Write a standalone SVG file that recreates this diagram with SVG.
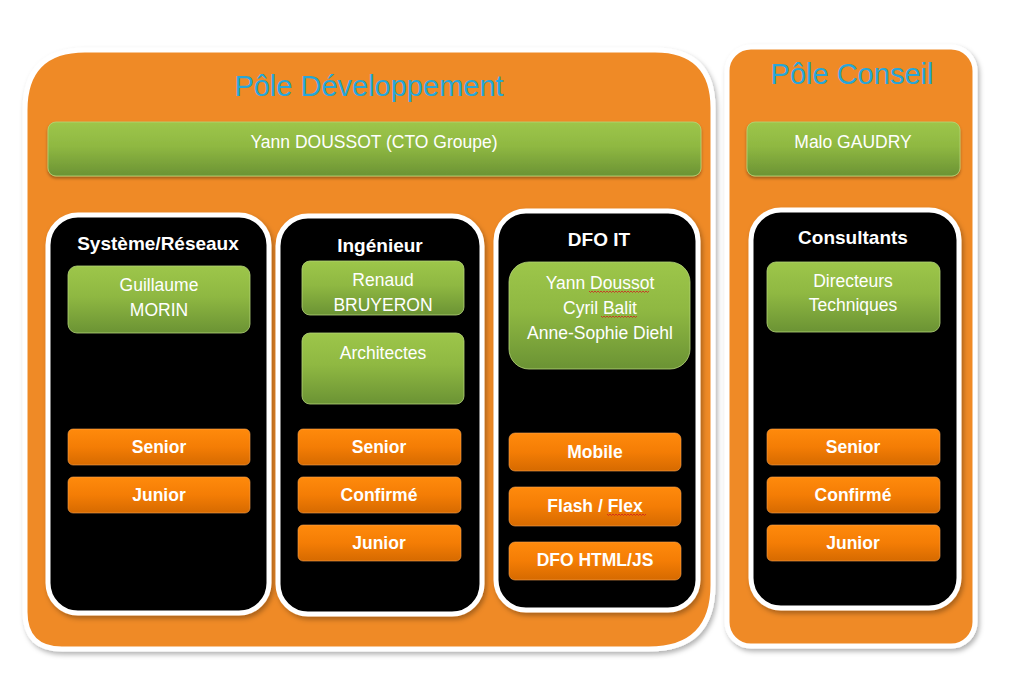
<svg xmlns="http://www.w3.org/2000/svg" width="1011" height="685" viewBox="0 0 1011 685">
<defs>
<linearGradient id="gGreen" x1="0" y1="0" x2="0" y2="1">
<stop offset="0" stop-color="#9dc64a"/><stop offset="0.45" stop-color="#8fb842"/><stop offset="1" stop-color="#6b9334"/>
</linearGradient>
<linearGradient id="gOrange" x1="0" y1="0" x2="0" y2="1">
<stop offset="0" stop-color="#ff8a0c"/><stop offset="0.5" stop-color="#f47d05"/><stop offset="1" stop-color="#d66a00"/>
</linearGradient>
<filter id="sh" x="-10%" y="-10%" width="120%" height="120%">
<feDropShadow dx="2" dy="3" stdDeviation="2.5" flood-color="#000" flood-opacity="0.3"/>
</filter>
<filter id="shs" x="-10%" y="-20%" width="120%" height="150%">
<feDropShadow dx="0" dy="2" stdDeviation="1.5" flood-color="#000" flood-opacity="0.35"/>
</filter>
</defs>
<style>
.pole{fill:#ef8a27;stroke:#ffffff;stroke-width:5}
.col{fill:#000000;stroke:#ffffff;stroke-width:5}
.green{fill:url(#gGreen);stroke:#b5d67a;stroke-width:0.8}
.btn{fill:url(#gOrange);stroke:#f7a350;stroke-width:0.6}
.title{font-family:"Liberation Sans",Arial,sans-serif;font-size:29px;fill:#27a6d9;text-anchor:middle}
.head{font-family:"Liberation Sans",Arial,sans-serif;font-size:19px;font-weight:bold;fill:#ffffff;text-anchor:middle}
.gt{font-family:"Liberation Sans",Arial,sans-serif;font-size:17.5px;fill:#ffffff;text-anchor:middle}
.bt{font-family:"Liberation Sans",Arial,sans-serif;font-size:17.5px;font-weight:bold;fill:#ffffff;text-anchor:middle}
.sq{fill:none;stroke:#d02020;stroke-width:0.8}
</style>
<rect width="1011" height="685" fill="#ffffff"/>

<g id="pole-dev">
<path class="pole" filter="url(#sh)" d="M85,50 H655 Q713,50 713,108 V585 Q713,649 649,649 H62 Q25,649 25,612 V110 Q25,50 85,50 Z"/>
<text class="title" x="369" y="96">Pôle Développement</text>
</g>
<g id="pole-conseil">
<rect class="pole" filter="url(#sh)" x="727" y="47" width="248" height="599" rx="24"/>
<text class="title" x="852" y="84">Pôle Conseil</text>
</g>

<g id="cto">
<rect class="green" filter="url(#shs)" x="48" y="122" width="653" height="54" rx="8"/>
<text class="gt" x="374" y="148">Yann DOUSSOT (CTO Groupe)</text>
</g>
<g id="malo">
<rect class="green" filter="url(#shs)" x="747" y="122" width="213" height="54" rx="8"/>
<text class="gt" x="853" y="148">Malo GAUDRY</text>
</g>

<g id="col-systeme">
<rect class="col" filter="url(#sh)" x="48" y="215" width="221" height="398" rx="30"/>
<text class="head" x="158" y="250">Système/Réseaux</text>
<rect class="green" x="68" y="266" width="182" height="67" rx="9"/>
<text class="gt" x="159" y="291">Guillaume</text>
<text class="gt" x="159" y="316">MORIN</text>
<rect class="btn" x="68" y="429" width="182" height="36" rx="5"/>
<text class="bt" x="159" y="453">Senior</text>
<rect class="btn" x="68" y="477" width="182" height="36" rx="5"/>
<text class="bt" x="159" y="501">Junior</text>
</g>

<g id="col-ingenieur">
<rect class="col" filter="url(#sh)" x="278" y="216" width="204" height="398" rx="30"/>
<text class="head" x="380" y="252">Ingénieur</text>
<rect class="green" x="302" y="261" width="162" height="54" rx="8"/>
<text class="gt" x="383" y="286">Renaud</text>
<text class="gt" x="383" y="311">BRUYERON</text>
<rect class="green" x="302" y="333" width="162" height="71" rx="8"/>
<text class="gt" x="383" y="359">Architectes</text>
<rect class="btn" x="298" y="429" width="163" height="36" rx="5"/>
<text class="bt" x="379" y="453">Senior</text>
<rect class="btn" x="298" y="477" width="163" height="36" rx="5"/>
<text class="bt" x="379" y="501">Confirmé</text>
<rect class="btn" x="298" y="525" width="163" height="36" rx="5"/>
<text class="bt" x="379" y="549">Junior</text>
</g>

<g id="col-dfo">
<rect class="col" filter="url(#sh)" x="496" y="211" width="202" height="399" rx="30"/>
<text class="head" x="599" y="246">DFO IT</text>
<rect class="green" x="509" y="262" width="181" height="107" rx="20"/>
<text class="gt" x="600" y="289">Yann Doussot</text>
<text class="gt" x="600" y="314">Cyril Balit</text>
<text class="gt" x="600" y="339">Anne-Sophie Diehl</text>
<path class="sq" d="M589,291 l1.5,1.5 l1.5,-1.5 l1.5,1.5 l1.5,-1.5 l1.5,1.5 l1.5,-1.5 l1.5,1.5 l1.5,-1.5 l1.5,1.5 l1.5,-1.5 l1.5,1.5 l1.5,-1.5 l1.5,1.5 l1.5,-1.5 l1.5,1.5 l1.5,-1.5 l1.5,1.5 l1.5,-1.5 l1.5,1.5 l1.5,-1.5 l1.5,1.5 l1.5,-1.5 l1.5,1.5 l1.5,-1.5 l1.5,1.5 l1.5,-1.5 l1.5,1.5 l1.5,-1.5 l1.5,1.5 l1.5,-1.5 l1.5,1.5 l1.5,-1.5 l1.5,1.5 l1.5,-1.5 l1.5,1.5 l1.5,-1.5 l1.5,1.5 l1.5,-1.5 l1.5,1.5 l1.5,-1.5"/>
<path class="sq" d="M601,316 l1.5,1.5 l1.5,-1.5 l1.5,1.5 l1.5,-1.5 l1.5,1.5 l1.5,-1.5 l1.5,1.5 l1.5,-1.5 l1.5,1.5 l1.5,-1.5 l1.5,1.5 l1.5,-1.5 l1.5,1.5 l1.5,-1.5 l1.5,1.5 l1.5,-1.5 l1.5,1.5 l1.5,-1.5 l1.5,1.5 l1.5,-1.5 l1.5,1.5 l1.5,-1.5 l1.5,1.5 l1.5,-1.5"/>
<rect class="btn" x="509" y="433" width="172" height="38" rx="6"/>
<text class="bt" x="595" y="458">Mobile</text>
<rect class="btn" x="509" y="487" width="172" height="39" rx="6"/>
<text class="bt" x="595" y="512">Flash / Flex</text>
<path class="sq" d="M607,514 l1.5,1.5 l1.5,-1.5 l1.5,1.5 l1.5,-1.5 l1.5,1.5 l1.5,-1.5 l1.5,1.5 l1.5,-1.5 l1.5,1.5 l1.5,-1.5 l1.5,1.5 l1.5,-1.5 l1.5,1.5 l1.5,-1.5 l1.5,1.5 l1.5,-1.5 l1.5,1.5 l1.5,-1.5 l1.5,1.5 l1.5,-1.5 l1.5,1.5 l1.5,-1.5 l1.5,1.5 l1.5,-1.5 l1.5,1.5 l1.5,-1.5"/>
<rect class="btn" x="509" y="542" width="172" height="38" rx="6"/>
<text class="bt" x="595" y="566">DFO HTML/JS</text>
</g>

<g id="col-consultants">
<rect class="col" filter="url(#sh)" x="751" y="210" width="208" height="398" rx="30"/>
<text class="head" x="853" y="244">Consultants</text>
<rect class="green" x="767" y="262" width="173" height="70" rx="9"/>
<text class="gt" x="853" y="287">Directeurs</text>
<text class="gt" x="853" y="311">Techniques</text>
<rect class="btn" x="767" y="429" width="173" height="36" rx="5"/>
<text class="bt" x="853" y="453">Senior</text>
<rect class="btn" x="767" y="477" width="173" height="36" rx="5"/>
<text class="bt" x="853" y="501">Confirmé</text>
<rect class="btn" x="767" y="525" width="173" height="36" rx="5"/>
<text class="bt" x="853" y="549">Junior</text>
</g>

<g id="connectors"/>
</svg>
